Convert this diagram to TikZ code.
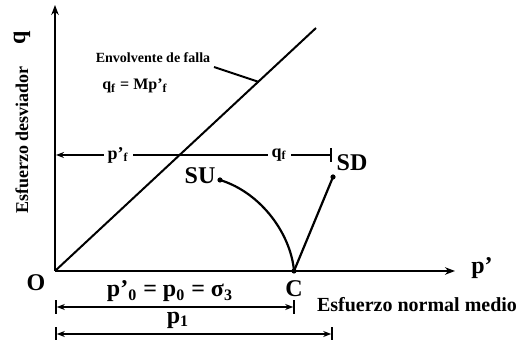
\documentclass[tikz,border=0pt]{standalone}
\usepackage{amsmath}
\usepackage{fontspec}
\setmainfont{Liberation Serif}
\usepackage{tikz}
\usetikzlibrary{arrows.meta}
\tikzset{
    txt/.style={font=\bfseries, inner sep=1pt},
    dimlbl/.style={font=\bfseries\large, fill=white, inner sep=2pt},
    dimline/.style={line width=0.9pt, |<->|, >={Stealth[length=4pt,width=3pt]}},
    pathline/.style={line width=1.1pt},
    }
\newcommand{\pathdot}[1]{\fill (#1) circle (1.3pt);}
\newcommand{\sub}[1]{\textsubscript{#1}}

\begin{document}
\begin{tikzpicture}[x=0.5pt, y=-0.5pt, line width=1pt]
    \useasboundingbox (0,0) rectangle (519,340);
    % axes
    \coordinate (O) at (55,271);
    \coordinate (qtop) at (55,5);
    \coordinate (pend) at (455,271);
    \draw[-{Stealth[length=5pt]}] (O) -- (qtop);
    \draw[-{Stealth[length=5pt]}] (O) -- (pend);
    \node[txt, font=\bfseries\large] (plbl) at (482,268) {p'};
    \node[txt, font=\bfseries\large] (olbl) at (36,283) {O};
    \node[txt, font=\bfseries\large, rotate=90] (qlbl) at (22,38) {q};
    \node[txt, font=\bfseries\small, rotate=90] (ylbl) at (22,140) {Esfuerzo desviador};
    \node[txt, font=\bfseries\normalsize] (xlbl) at (417,305) {Esfuerzo normal medio};
    % failure envelope
    \coordinate (Ftop) at (316,28);
    \draw (O) -- (Ftop);
    \coordinate (Fpt) at (259,82);
    \node[txt, font=\bfseries\scriptsize] (env) at (153,58) {Envolvente de falla};
    \coordinate (envend) at (214,67);
    \draw (envend) -- (Fpt);
    \node[txt, font=\bfseries\footnotesize] (eqn) at (135,86) {q\sub{f} = Mp'\sub{f}};
    % stress paths
    \coordinate (C) at (294,271);
    \coordinate (SU) at (220,180);
    \coordinate (SD) at (333,177);
    \draw[pathline] (SU) .. controls (262,193) and (291,235) .. (C);
    \draw[pathline] (C) -- (SD);
    \pathdot{SU} \pathdot{SD} \pathdot{C}
    \node[txt, font=\bfseries\large] (sulbl) at (200,176) {SU};
    \node[txt, font=\bfseries\large] (sdlbl) at (352,163) {SD};
    \node[txt, font=\bfseries\large] (clbl) at (294,289) {C};
    % dimensions
    \coordinate (df1) at (56,155);
    \coordinate (df2) at (332,155);
    \draw[line width=0.9pt, {Stealth[length=4pt,width=3pt]}-|] (df1) -- (df2);
    \node[dimlbl, font=\bfseries\small] (pflbl) at (118,155) {p'\sub{f}};
    \node[dimlbl, font=\bfseries\small] (qflbl) at (279,155) {q\sub{f}};
    \coordinate (d0a) at (55,307);
    \coordinate (d0b) at (295,307);
    \draw[dimline] (d0a) -- (d0b);
    \node[txt, font=\bfseries\large] (p0lbl) at (170,291) {p'\sub{0} = p\sub{0} = σ\sub{3}};
    \coordinate (d1a) at (55,334);
    \coordinate (d1b) at (333,334);
    \draw[dimline] (d1a) -- (d1b);
    \node[txt, font=\bfseries\large] (p1lbl) at (178,320) {p\sub{1}};
\end{tikzpicture}
\end{document}
